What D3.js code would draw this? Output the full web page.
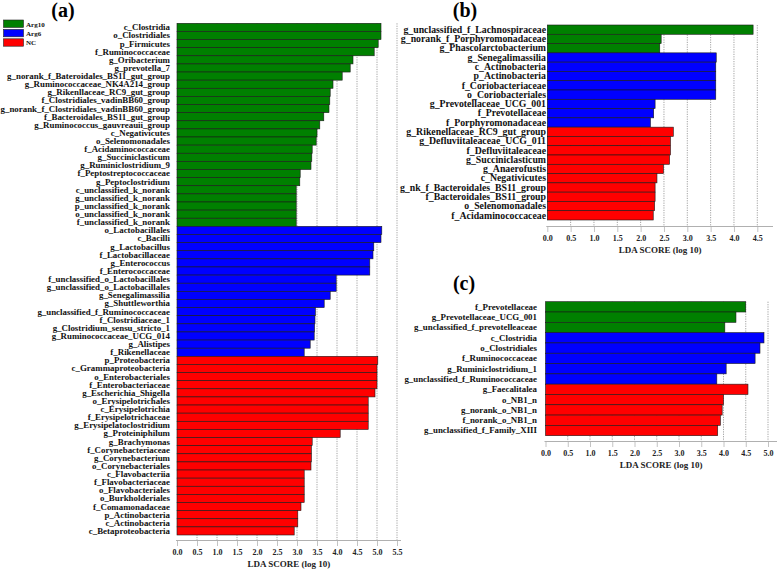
<!DOCTYPE html>
<html><head><meta charset="utf-8">
<script src="https://cdn.jsdelivr.net/npm/d3@7"></script>
<style>body{margin:0;background:#fff}svg{display:block}</style>
</head><body>
<svg id="chart" width="778" height="571"></svg>
<script>
const groups = ["Arg10", "Arg6", "NC"];
const groupColors = ["#008000", "#0000ff", "#ff0000"];

// Panel (a)
const aLabels = ["c_Clostridia","o_Clostridiales","p_Firmicutes","f_Ruminococcaceae","g_Oribacterium","g_prevotella_7","g_norank_f_Bateroidales_BS11_gut_group","g_Ruminococcaceae_NK4A214_group","g_Rikenllaceae_RC9_gut_group","f_Clostridiales_vadinBB60_group","g_norank_f_Clostridiales_vadinBB60_group","f_Bacteroidales_BS11_gut_group","g_Ruminococcus_gauvreauii_group","c_Negativicutes","o_Selenomonadales","f_Acidaminococcaceae","g_Succiniclasticum","g_Ruminiclostridium_9","f_Peptostreptococcaceae","g_Peptoclostridium","c_unclassified_k_norank","g_unclassified_k_norank","p_unclassified_k_norank","o_unclassified_k_norank","f_unclassified_k_norank",
"o_Lactobacillales","c_Bacilli","g_Lactobacillus","f_Lactobacillaceae","g_Enterococcus","f_Enterococcaceae","f_unclassified_o_Lactobacillales","g_unclassified_o_Lactobacillales","g_Senegalimassilia","g_Shuttleworthia","g_unclassified_f_Ruminococcaceae","f_Clostridiaceae_1","g_Clostridium_sensu_stricto_1","g_Ruminococcaceae_UCG_014","g_Alistipes","f_Rikenellaceae",
"p_Proteobacteria","c_Grammaproteobacteria","o_Enterobacteriales","f_Enterobacteriaceae","g_Escherichia_Shigella","o_Erysipelotrichales","c_Erysipelotrichia","f_Erysipelotrichaceae","g_Erysipelatoclostridium","g_Proteiniphilum","g_Brachymonas","f_Corynebacteriaceae","g_Corynebacterium","o_Corynebacteriales","c_Flavobacteriia","f_Flavobacteriaceae","o_Flavobacteriales","o_Burkholderiales","f_Comamonadaceae","p_Actinobacteria","c_Actinobacteria","c_Betaproteobacteria"];
const aValues = [5.10,5.10,5.03,4.93,4.40,4.33,4.13,3.90,3.83,3.82,3.80,3.67,3.57,3.50,3.48,3.38,3.37,3.35,3.08,3.07,2.98,2.98,2.98,2.98,2.98,
5.12,5.10,4.92,4.90,4.82,4.82,3.98,3.98,3.83,3.68,3.46,3.45,3.44,3.43,3.33,3.18,
5.02,5.00,5.00,5.00,4.95,4.78,4.78,4.78,4.78,4.08,3.38,3.36,3.36,3.35,3.18,3.18,3.18,3.18,3.10,3.02,3.02,2.93];
const aGroups = [0,0,0,0,0,0,0,0,0,0,0,0,0,0,0,0,0,0,0,0,0,0,0,0,0,
1,1,1,1,1,1,1,1,1,1,1,1,1,1,1,1,
2,2,2,2,2,2,2,2,2,2,2,2,2,2,2,2,2,2,2,2,2,2];
const aTicks = [0,0.5,1,1.5,2,2.5,3,3.5,4,4.5,5,5.5];

// Panel (b)
const bLabels = ["g_unclassified_f_Lachnospiraceae","g_norank_f_Porphyromonadaceae","g_Phascolarctobacterium",
"g_Senegalimassilia","c_Actinobacteria","p_Actinobacteria","f_Coriobacteriaceae","o_Coriobacteriales","g_Prevotellaceae_UCG_001","f_Prevotellaceae","f_Porphyromonadaceae",
"g_Rikenellaceae_RC9_gut_group","g_Defluviitaleaceae_UCG_011","f_Defluviitaleaceae","g_Succiniclasticum","g_Anaerofustis","c_Negativicutes","g_nk_f_Bacteroidales_BS11_group","f_Bacteroidales_BS11_group","o_Selenomonadales","f_Acidaminococcaceae"];
const bValues = [4.41,2.44,2.41,3.62,3.61,3.61,3.61,3.61,2.31,2.28,2.21,2.70,2.64,2.64,2.62,2.49,2.35,2.31,2.31,2.30,2.27];
const bGroups = [0,0,0,1,1,1,1,1,1,1,1,2,2,2,2,2,2,2,2,2,2];
const bTicks = [0,0.5,1,1.5,2,2.5,3,3.5,4,4.5];

// Panel (c)
const cLabels = ["f_Prevotellaceae","g_Prevotellaceae_UCG_001","g_unclassified_f_prevotelleaceae",
"c_Clostridia","o_Clostridiales","f_Ruminococcaceae","g_Ruminiclostridium_1","g_unclassified_f_Ruminococcaceae",
"g_Faecalitalea","o_NB1_n","g_norank_o_NB1_n","f_norank_o_NB1_n","g_unclassified_f_Family_XIII"];
const cValues = [4.50,4.28,4.03,4.91,4.82,4.71,4.06,3.85,4.55,4.00,3.97,3.93,3.87];
const cGroups = [0,0,0,1,1,1,1,1,2,2,2,2,2];
const cTicks = [0,0.5,1,1.5,2,2.5,3,3.5,4,4.5,5];

const svg = d3.select("#chart");
const FONT = "'Liberation Serif','Times New Roman',serif";

function panel(o) {
  const g = svg.append("g");
  const x = d3.scaleLinear().domain([0, o.ticks[o.ticks.length-1]]).range([o.x0, o.x1]);
  const y = d3.scaleBand().domain(d3.range(o.labels.length)).range([o.y0, o.y1]).padding(0);
  // grid
  g.selectAll("line.grid").data(o.ticks.filter(t => t > 0)).join("line")
    .attr("x1", d => x(d)).attr("x2", d => x(d))
    .attr("y1", o.y0).attr("y2", o.axisY)
    .attr("stroke", "#8a8a8a").attr("stroke-width", 0.8).attr("stroke-dasharray", "1.2,1.2");
  // bars
  g.selectAll("rect.bar").data(o.values).join("rect")
    .attr("x", x(0)).attr("y", (d, i) => y(i))
    .attr("width", d => x(d) - x(0)).attr("height", y.bandwidth())
    .attr("fill", (d, i) => groupColors[o.groups[i]])
    .attr("stroke", "#1a1a1a").attr("stroke-width", 0.6);
  // labels
  g.selectAll("text.lab").data(o.labels).join("text")
    .attr("x", o.labelX).attr("y", (d, i) => y(i) + y.bandwidth()/2 + o.fs*0.33)
    .attr("text-anchor", "end").attr("font-family", FONT).attr("font-weight", "bold")
    .attr("font-size", o.fs).attr("fill", "#111").text(d => d);
  // axis
  const ax = d3.axisBottom(x).tickValues(o.ticks).tickFormat(d3.format(".1f")).tickSize(5).tickSizeOuter(0);
  const axg = g.append("g").attr("transform", `translate(0,${o.axisY})`).call(ax);
  axg.select(".domain").remove();
  axg.append("line").attr("x1", x(0) - 1).attr("x2", o.axisEnd).attr("y1", 0).attr("y2", 0)
    .attr("stroke", "#b0b0b0").attr("stroke-width", 1);
  axg.selectAll(".tick line").attr("stroke", "#888").attr("stroke-dasharray", "1,1");
  axg.selectAll(".tick text").attr("font-family", FONT).attr("font-weight", "bold")
    .attr("font-size", 8).attr("fill", "#222").attr("y", 9);
  g.append("text").attr("x", (x(0) + o.axisEnd) / 2).attr("y", o.axisY + 26)
    .attr("text-anchor", "middle").attr("font-family", FONT).attr("font-weight", "bold")
    .attr("font-size", 9).attr("fill", "#222").text("LDA SCORE (log 10)");
  // title
  g.append("text").attr("x", o.titleX).attr("y", o.titleY).attr("text-anchor", "middle")
    .attr("font-family", FONT).attr("font-weight", "bold").attr("font-size", 20).attr("fill", "#000")
    .text(o.title);
}

panel({labels: aLabels, values: aValues, groups: aGroups, ticks: aTicks,
  x0: 177, x1: 397, y0: 23.3, y1: 535, axisY: 540.5, axisEnd: 401, labelX: 170, fs: 8.9,
  title: "(a)", titleX: 63, titleY: 17});
panel({labels: bLabels, values: bValues, groups: bGroups, ticks: bTicks,
  x0: 547.3, x1: 757.3, y0: 25, y1: 220, axisY: 226.5, axisEnd: 773, labelX: 546, fs: 9.8,
  title: "(b)", titleX: 465, titleY: 17});
panel({labels: cLabels, values: cValues, groups: cGroups, ticks: cTicks,
  x0: 545.5, x1: 768, y0: 301.7, y1: 435.7, axisY: 441.5, axisEnd: 777, labelX: 537, fs: 8.9,
  title: "(c)", titleX: 464, titleY: 290});

// legend
const leg = svg.append("g");
groups.forEach((name, i) => {
  leg.append("rect").attr("x", 3.5).attr("y", 20 + i * 9.4).attr("width", 20).attr("height", 7.4)
    .attr("fill", groupColors[i]).attr("stroke", "#222").attr("stroke-width", 0.6);
  leg.append("text").attr("x", 26).attr("y", 26.5 + i * 9.4).attr("font-family", FONT)
    .attr("font-weight", "bold").attr("font-size", 7).attr("fill", "#111").text(name);
});
</script>
</body></html>
